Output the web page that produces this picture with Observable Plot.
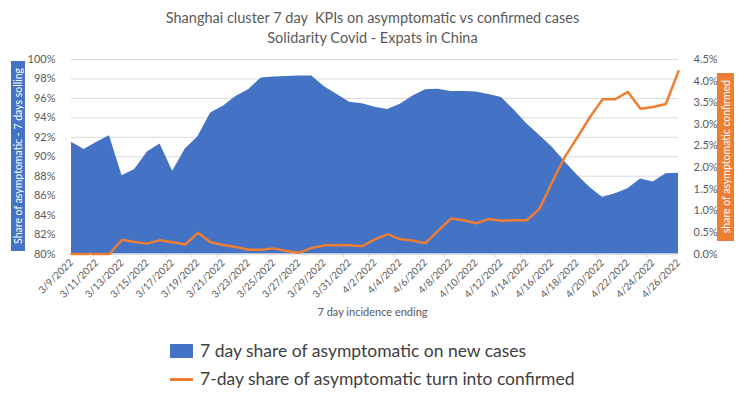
<!DOCTYPE html>
<html>
<head>
<meta charset="utf-8">
<script src="https://cdn.jsdelivr.net/npm/d3@7"></script>
<script src="https://cdn.jsdelivr.net/npm/@observablehq/plot@0.6"></script>
<style>
  html, body { margin: 0; padding: 0; background: #fff; }
  #wrap { position: relative; width: 745px; height: 396px; font-family: Lato, "Open Sans", sans-serif; color: #595959; overflow: hidden; }
  #wrap svg { position: absolute; left: 0; top: 0; }
  .abs { position: absolute; }
  #title { left: 0; width: 745px; top: 8px; text-align: center; font-size: 14.5px; line-height: 20px; }
  .vbox { display: flex; align-items: center; justify-content: center; color: #fff; font-size: 10.5px; }
  .vbox span { writing-mode: vertical-rl; transform: rotate(180deg); white-space: nowrap; }
  #xtitle { left: 0; width: 745px; top: 305px; text-align: center; font-size: 11px; }
  .leg { font-size: 17.5px; color: #404040; white-space: nowrap; }
</style>
</head>
<body>
<div id="wrap"></div>
<script>
// ---- data ----
const dates = [
  "2022-03-09","2022-03-10","2022-03-11","2022-03-12","2022-03-13","2022-03-14","2022-03-15",
  "2022-03-16","2022-03-17","2022-03-18","2022-03-19","2022-03-20","2022-03-21","2022-03-22",
  "2022-03-23","2022-03-24","2022-03-25","2022-03-26","2022-03-27","2022-03-28","2022-03-29",
  "2022-03-30","2022-03-31","2022-04-01","2022-04-02","2022-04-03","2022-04-04","2022-04-05",
  "2022-04-06","2022-04-07","2022-04-08","2022-04-09","2022-04-10","2022-04-11","2022-04-12",
  "2022-04-13","2022-04-14","2022-04-15","2022-04-16","2022-04-17","2022-04-18","2022-04-19",
  "2022-04-20","2022-04-21","2022-04-22","2022-04-23","2022-04-24","2022-04-25","2022-04-26"
];
// 7 day share of asymptomatic on new cases (%)
const shareAsymptomatic = [
  91.5, 90.75, 91.5, 92.15, 88.05, 88.7, 90.5, 91.3, 88.5, 90.8,
  92.05, 94.5, 95.2, 96.2, 96.9, 98.1, 98.2, 98.25, 98.3, 98.3,
  97.2, 96.4, 95.6, 95.45, 95.1, 94.85, 95.4, 96.25, 96.9, 96.95,
  96.7, 96.7, 96.65, 96.4, 96.1, 94.8, 93.4, 92.2, 91.0, 89.5,
  88.1, 86.85, 85.8, 86.2, 86.7, 87.7, 87.4, 88.25, 88.3
];
// 7-day share of asymptomatic turn into confirmed (%)
const shareConfirmed = [
  0, 0, 0, 0, 0.33, 0.28, 0.24, 0.32, 0.27, 0.22,
  0.49, 0.27, 0.21, 0.16, 0.10, 0.10, 0.13, 0.07, 0.03, 0.14,
  0.20, 0.21, 0.20, 0.18, 0.34, 0.46, 0.34, 0.31, 0.25, 0.54,
  0.82, 0.78, 0.71, 0.81, 0.77, 0.78, 0.78, 1.04, 1.66, 2.24,
  2.70, 3.17, 3.58, 3.58, 3.75, 3.36, 3.40, 3.47, 4.23
];
const leftTicks = [80, 82, 84, 86, 88, 90, 92, 94, 96, 98, 100];
const rightTicks = [0, 0.5, 1, 1.5, 2, 2.5, 3, 3.5, 4, 4.5];
const xTickDates = dates.filter((d, i) => i % 2 === 0);
const titleLines = ["Shanghai cluster 7 day\u00a0 KPIs on asymptomatic vs confirmed cases", "Solidarity Covid - Expats in China"];
const leftAxisTitle = "Share of asymptomatic - 7 days solling";
const rightAxisTitle = "share of asymptomatic confirmed";
const xAxisTitle = "7 day incidence ending";
const seriesNames = ["7 day share of asymptomatic on new cases", "7-day share of asymptomatic turn into confirmed"];
const colors = ["#4472C4", "#ED7D31"];

// ---- build ----
const parse = s => new Date(s + "T00:00:00Z");
const rows = dates.map((d, i) => ({date: parse(d), a: shareAsymptomatic[i], c: shareConfirmed[i]}));
const RMAX = 4.5;
const toLeft = v => 80 + v * 20 / RMAX;
const fromLeft = v => (v - 80) * RMAX / 20;
const halfTicks = rows.slice(0, -1).filter((r, i) => i % 2 === 1).map(r => new Date(+r.date + 12 * 3600 * 1000));
const fmt = d3.utcFormat("%-m/%-d/%Y");

const chart = Plot.plot({
  width: 745,
  height: 396,
  marginLeft: 71,
  marginRight: 67,
  marginTop: 59,
  marginBottom: 142.5,
  style: {fontFamily: "Lato, 'Open Sans', sans-serif", color: "#595959", background: "transparent", overflow: "visible"},
  x: {type: "utc", domain: [parse(dates[0]), parse(dates[dates.length - 1])]},
  y: {domain: [80, 100]},
  marks: [
    Plot.ruleY(leftTicks, {stroke: "#D9D9D9", strokeWidth: 1}),
    Plot.areaY(rows, {x: "date", y1: 80, y2: "a", fill: colors[0], curve: "linear"}),
    Plot.ruleY([80], {stroke: "#D9D9D9"}),
    Plot.lineY(rows, {x: "date", y: d => toLeft(d.c), stroke: colors[1], strokeWidth: 2.5, strokeLinejoin: "round"}),
    Plot.axisY({anchor: "left", ticks: leftTicks, tickFormat: d => d + "%", tickSize: 0, tickPadding: 16, fontSize: 11, label: null}),
    Plot.axisY({anchor: "right", ticks: rightTicks.map(toLeft), tickFormat: d => fromLeft(d).toFixed(1) + "%", tickSize: 0, tickPadding: 15, fontSize: 11, label: null}),
    Plot.axisX({ticks: xTickDates.map(parse), tickFormat: fmt, tickRotate: -45, tickSize: 0, tickPadding: 7, fontSize: 10, label: null}),
    Plot.axisX({ticks: halfTicks, tickFormat: () => "", tickSize: 4, stroke: "#D9D9D9", label: null})
  ]
});

const wrap = document.getElementById("wrap");
wrap.appendChild(chart);

function add(html, cls, style) {
  const el = document.createElement("div");
  el.className = "abs " + (cls || "");
  el.innerHTML = html;
  Object.assign(el.style, style || {});
  wrap.appendChild(el);
  return el;
}
add(titleLines.join("<br>"), "", {}).id = "title";
add("<span>" + leftAxisTitle + "</span>", "vbox", {left: "11px", top: "61px", width: "14px", height: "190px", background: colors[0]});
add("<span>" + rightAxisTitle + "</span>", "vbox", {left: "717px", top: "73px", width: "17px", height: "168px", background: colors[1]});
add(xAxisTitle, "", {}).id = "xtitle";
// legend
add("", "", {left: "170px", top: "344px", width: "23px", height: "14px", background: colors[0]});
add(seriesNames[0], "leg", {left: "200px", top: "340px"});
add("", "", {left: "170px", top: "378px", width: "23px", height: "3px", background: colors[1]});
add(seriesNames[1], "leg", {left: "200px", top: "368px"});
</script>
</body>
</html>
